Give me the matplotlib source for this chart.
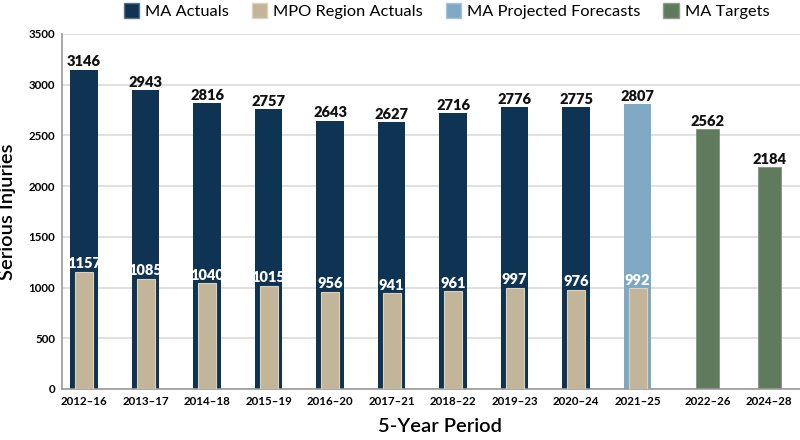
import numpy as np
import matplotlib
matplotlib.use("Agg")
import matplotlib.pyplot as plt
from matplotlib.patches import Patch

# data
periods = ["2012\u201316", "2013\u201317", "2014\u201318", "2015\u201319", "2016\u201320",
           "2017\u201321", "2018\u201322", "2019\u201323", "2020\u201324", "2021\u201325",
           "2022\u201326", "2024\u201328"]
ma_actuals = [3146, 2943, 2816, 2757, 2643, 2627, 2716, 2776, 2775]
ma_projected = [2807]
ma_targets = [2562, 2184]
mpo_actuals = [1157, 1085, 1040, 1015, 956, 941, 961, 997, 976, 992]

c_dark = "#0f3352"
c_tan = "#c3b59a"
c_light = "#7fa8c4"
c_green = "#5f7a5c"

plt.rcParams["font.family"] = ["Lato", "DejaVu Sans"]

# x positions: small extra gap before the target bars
x = np.arange(len(periods), dtype=float)
x[10:] += 0.14

fig = plt.figure(figsize=(8, 4.4), dpi=100)
ax = fig.add_axes([0.0775, 0.116, 0.9225, 0.807])

n_act = len(ma_actuals)
x_act = x[:n_act]
x_proj = x[n_act:n_act + 1]
x_tgt = x[n_act + 1:]

ax.bar(x_act, ma_actuals, width=0.45, color=c_dark, zorder=2)
ax.bar(x_proj, ma_projected, width=0.45, color=c_light, zorder=2)
ax.bar(x_tgt, ma_targets, width=0.37, color=c_green, edgecolor="#7d957a", linewidth=0.6, zorder=2)
ax.bar(x[:len(mpo_actuals)], mpo_actuals, width=0.29, color=c_tan,
       edgecolor="#ddd2b8", linewidth=0.8, zorder=3)

for xi, v in zip(list(x_act) + list(x_proj) + list(x_tgt), ma_actuals + ma_projected + ma_targets):
    ax.text(xi, v + 15, str(v), ha="center", va="bottom", fontsize=10.5,
            fontweight="heavy", color="#111111", zorder=4)
for xi, v in zip(x[:len(mpo_actuals)], mpo_actuals):
    ax.text(xi, v + 15, str(v), ha="center", va="bottom", fontsize=10.5,
            fontweight="heavy", color="white", zorder=4)

ax.set_xlim(-0.36, 11.64)
ax.set_ylim(0, 3500)
ax.set_yticks(np.arange(0, 3501, 500))
ax.set_xticks(x)
ax.set_xticklabels(periods)
for lab in ax.get_xticklabels() + ax.get_yticklabels():
    lab.set_fontweight("bold")
    lab.set_fontsize(8.3)
ax.tick_params(length=0, pad=5)
ax.grid(axis="y", color="#dddddd", linewidth=1.3, zorder=0)
ax.set_axisbelow(True)
for s in ["top", "right"]:
    ax.spines[s].set_visible(False)
for s in ["left", "bottom"]:
    ax.spines[s].set_color("#999999")
    ax.spines[s].set_linewidth(1.2)

ax.set_ylabel("Serious Injuries", fontsize=14.5, fontweight="semibold")
ax.yaxis.set_label_coords(-0.063, 0.5)
ax.set_xlabel("5-Year Period", fontsize=14.5, fontweight="semibold")
ax.xaxis.set_label_coords(0.512, -0.083)

handles = [Patch(facecolor=c_dark, edgecolor="#5a7590"),
           Patch(facecolor=c_tan, edgecolor="#ddd2b8"),
           Patch(facecolor=c_light, edgecolor="#a9c4d6"),
           Patch(facecolor=c_green, edgecolor="#8ba088")]
labels = ["MA Actuals", "MPO Region Actuals", "MA Projected Forecasts", "MA Targets"]
fig.legend(handles, labels, loc="center", bbox_to_anchor=(0.558, 0.975), ncol=4,
           frameon=False, fontsize=11.8, handlelength=0.95, handleheight=1.05,
           columnspacing=1.4, handletextpad=0.35, borderpad=0)

fig.savefig("out.png", dpi=100)
